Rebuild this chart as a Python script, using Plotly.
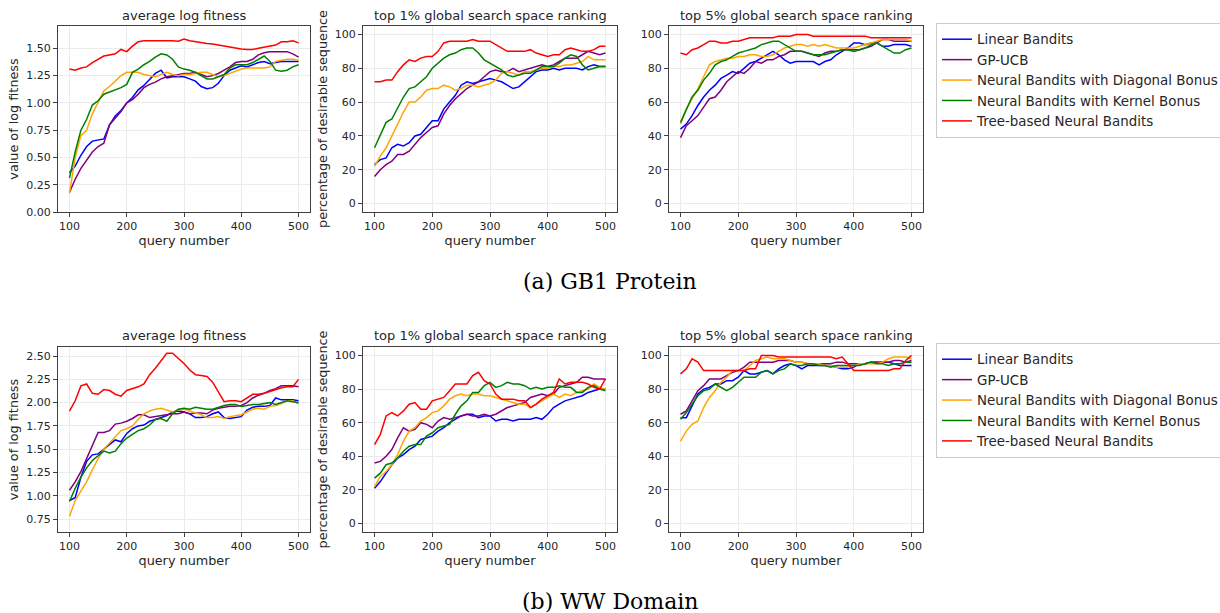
import plotly.graph_objects as go

# ---------------- data ----------------
query = list(range(100, 501, 10))

methods = ["Linear Bandits", "GP-UCB", "Neural Bandits with Diagonal Bonus",
           "Neural Bandits with Kernel Bonus", "Tree-based Neural Bandits"]
colors = ["blue", "purple", "orange", "green", "red"]

panel_titles = ["average log fitness", "top 1% global search space ranking",
                "top 5% global search space ranking"]
captions = ["(a) GB1 Protein", "(b) WW Domain"]

# GB1 - average log fitness
gb1_fit_linear = [0.36,0.42,0.52,0.60,0.65,0.66,0.67,0.80,0.88,0.93, 1.00,1.05,1.12,1.16,1.22,1.27,1.30,1.23,1.24,1.24,
                  1.24,1.22,1.20,1.15,1.13,1.14,1.18,1.25,1.30,1.32, 1.34,1.33,1.35,1.37,1.38,1.36,1.37,1.38,1.38,1.38, 1.38]
gb1_fit_gp = [0.18,0.30,0.40,0.47,0.55,0.60,0.63,0.80,0.86,0.92, 1.00,1.03,1.08,1.14,1.17,1.19,1.22,1.24,1.25,1.26,
              1.27,1.27,1.28,1.26,1.24,1.25,1.27,1.30,1.33,1.37, 1.38,1.38,1.40,1.44,1.46,1.47,1.47,1.47,1.47,1.45, 1.42]
gb1_fit_diag = [0.17,0.50,0.70,0.75,0.90,1.00,1.11,1.15,1.20,1.25, 1.28,1.28,1.28,1.26,1.25,1.24,1.26,1.28,1.26,1.25,
                1.26,1.26,1.27,1.28,1.28,1.26,1.24,1.25,1.27,1.29, 1.31,1.32,1.32,1.32,1.32,1.33,1.38,1.39,1.40,1.40, 1.39]
gb1_fit_kernel = [0.31,0.55,0.75,0.85,0.98,1.02,1.08,1.10,1.12,1.14, 1.17,1.28,1.31,1.35,1.38,1.42,1.45,1.44,1.40,1.33,
                  1.31,1.30,1.28,1.25,1.22,1.22,1.24,1.26,1.32,1.35, 1.35,1.35,1.37,1.40,1.43,1.38,1.30,1.29,1.30,1.33, 1.35]
gb1_fit_tree = [1.31,1.30,1.32,1.33,1.37,1.40,1.43,1.44,1.45,1.49, 1.47,1.52,1.56,1.57,1.57,1.575,1.575,1.57,1.57,1.565,
                1.585,1.57,1.56,1.55,1.545,1.54,1.53,1.52,1.51,1.50, 1.495,1.49,1.49,1.50,1.51,1.52,1.53,1.56,1.56,1.57, 1.55]

# GB1 - top 1%
gb1_top1_linear = [23,26,27,33,35,34,36,40,41,45, 49,49,56,60,64,70,72,71,72,73, 74,73,72,70,68,69,72,75,78,79, 79,80,79,80,80,80,79,81,82,81, 81]
gb1_top1_gp = [16,20,23,25,29,29,31,35,39,42, 45,46,53,58,62,65,68,70,72,75, 78,79,78,78,80,78,79,80,81,82, 81,82,84,86,86,86,88,90,89,88, 89]
gb1_top1_diag = [22,28,33,40,47,54,60,60,63,67, 68,68,70,69,67,68,70,70,69,70, 71,73,77,78,77,76,78,78,79,80, 80,81,81,82,82,83,84,87,85,85, 85]
gb1_top1_kernel = [33,40,48,50,57,63,68,69,72,75, 80,83,86,88,89,91,92,92,89,85, 83,81,79,76,75,76,77,77,79,81, 81,81,83,86,88,87,82,79,80,81, 81]
gb1_top1_tree = [72,72,73,73,78,82,85,84,86,87, 87,90,95,96,96,96,96,97,96,96, 96,94,92,90,90,90,90,91,89,88, 87,88,88,91,92,91,90,90,91,93, 93]

# GB1 - top 5%
gb1_top5_linear = [44,47,52,58,63,67,70,74,76,78, 77,80,83,84,86,88,90,88,85,83, 84,84,84,84,82,84,85,88,90,92, 95,95,94,95,95,93,93,94,94,94, 93]
gb1_top5_gp = [39,46,49,52,57,62,63,67,72,75, 78,77,80,84,83,85,85,87,88,90, 90,90,89,88,87,89,90,90,91,91, 91,91,92,93,95,97,97,96,96,96, 96]
gb1_top5_diag = [47,56,62,68,75,82,84,85,86,86, 87,87,88,88,87,87,88,90,92,93, 94,94,93,94,93,94,93,92,92,92, 92,93,94,95,96,97,97,97,97,97, 96]
gb1_top5_kernel = [48,55,63,67,73,77,82,84,85,87, 89,90,91,92,94,95,96,96,94,92, 90,90,89,88,88,88,89,90,91,91, 90,91,92,94,95,93,91,89,89,91, 92]
gb1_top5_tree = [89,88,91,92,94,96,96,95,95,96, 96,97,98,98,98,98,98,99,99,99, 100,100,100,99,99,99,99,99,99,99, 99,99,99,98,98,98,98,98,98,98, 98]

# WW - average log fitness
ww_fit_linear = [0.95,0.98,1.20,1.37,1.44,1.45,1.50,1.55,1.60,1.58, 1.67,1.72,1.75,1.76,1.80,1.82,1.84,1.86,1.90,1.91,
                 1.90,1.88,1.84,1.84,1.85,1.88,1.90,1.84,1.83,1.84, 1.85,1.92,1.95,1.96,1.96,1.97,2.05,2.03,2.03,2.03, 2.02]
ww_fit_gp = [1.06,1.15,1.26,1.40,1.55,1.68,1.68,1.70,1.77,1.78, 1.80,1.83,1.87,1.87,1.84,1.85,1.86,1.87,1.88,1.88,
             1.90,1.88,1.89,1.89,1.88,1.92,1.94,1.95,1.96,1.96, 1.97,2.00,2.05,2.08,2.10,2.13,2.15,2.18,2.18,2.18, 2.17]
ww_fit_diag = [0.78,0.95,1.05,1.15,1.28,1.40,1.50,1.57,1.63,1.70, 1.72,1.75,1.82,1.88,1.91,1.93,1.94,1.92,1.90,1.92,
               1.93,1.91,1.89,1.87,1.84,1.84,1.85,1.83,1.85,1.86, 1.87,1.90,1.93,1.94,1.93,1.96,1.97,1.99,2.02,2.02, 1.99]
ww_fit_kernel = [0.94,1.08,1.20,1.30,1.38,1.43,1.48,1.46,1.48,1.56, 1.62,1.66,1.70,1.72,1.76,1.82,1.83,1.80,1.88,1.93,
                 1.94,1.93,1.95,1.94,1.93,1.93,1.95,1.97,1.98,1.98, 1.96,1.97,1.98,1.98,1.99,2.00,1.98,2.00,2.02,2.01, 2.00]
ww_fit_tree = [1.91,2.02,2.18,2.20,2.10,2.09,2.14,2.13,2.09,2.07, 2.13,2.15,2.17,2.20,2.30,2.37,2.45,2.53,2.53,2.48,
               2.42,2.35,2.30,2.29,2.28,2.22,2.12,2.01,2.02,2.02, 2.01,2.05,2.09,2.09,2.10,2.12,2.14,2.16,2.17,2.17, 2.25]

# WW - top 1%
ww_top1_linear = [21,25,30,35,39,41,44,46,50,51, 52,55,57,60,62,64,65,65,63,64, 64,61,62,62,61,62,62,62,63,62, 65,69,71,73,74,75,76,78,79,80, 80]
ww_top1_gp = [36,37,40,44,51,57,55,56,60,59, 57,61,63,62,63,64,65,64,64,65, 64,65,67,69,70,71,72,75,76,77, 76,77,81,82,83,84,87,87,86,86, 86]
ww_top1_diag = [22,28,31,35,41,49,55,57,61,63, 66,67,70,74,76,77,76,77,77,76, 76,75,74,73,72,71,71,69,71,73, 75,77,75,77,76,78,79,80,83,81, 80]
ww_top1_kernel = [27,30,35,36,39,43,46,47,47,52, 54,57,58,59,65,70,73,78,78,82, 84,81,82,84,83,83,82,80,81,80, 81,81,82,81,81,78,78,81,82,80, 79]
ww_top1_tree = [47,53,64,66,64,67,71,72,68,68, 73,74,75,79,83,83,83,88,90,85, 83,77,74,74,74,73,73,69,71,74, 76,78,86,83,84,84,84,83,81,80, 86]

# WW - top 5%
ww_top5_linear = [63,63,70,77,80,81,83,83,85,85, 87,91,89,89,90,91,89,92,94,95, 94,92,94,94,94,94,94,93,92,92, 93,95,95,96,96,96,96,95,94,94, 94]
ww_top5_gp = [65,67,73,79,82,86,86,86,88,90, 91,93,96,96,96,96,96,97,97,97, 96,96,95,95,95,95,95,96,96,95, 95,95,95,96,96,96,96,97,97,96, 97]
ww_top5_diag = [49,55,59,61,69,75,79,84,87,91, 91,91,94,97,98,99,98,98,98,97, 96,96,95,95,95,94,94,93,93,93, 94,95,95,95,95,96,98,99,99,99, 98]
ww_top5_kernel = [62,66,71,76,79,80,83,81,79,81, 84,87,87,87,90,91,89,91,92,95, 94,94,95,95,94,94,93,94,94,94, 94,94,95,96,95,95,94,95,95,96, 96]
ww_top5_tree = [89,92,98,96,91,91,91,91,91,91, 91,91,92,92,100,100,100,99,99,99, 99,99,99,99,99,99,99,98,99,95, 91,91,91,91,91,91,91,92,92,97, 100]

fit_ticks_gb1 = [0.00, 0.25, 0.50, 0.75, 1.00, 1.25, 1.50]
fit_ticks_ww = [0.75, 1.00, 1.25, 1.50, 1.75, 2.00, 2.25, 2.50]
pct_ticks = [0, 20, 40, 60, 80, 100]
x_ticks = [100, 200, 300, 400, 500]

panels = [
    [gb1_fit_linear, gb1_fit_gp, gb1_fit_diag, gb1_fit_kernel, gb1_fit_tree],
    [gb1_top1_linear, gb1_top1_gp, gb1_top1_diag, gb1_top1_kernel, gb1_top1_tree],
    [gb1_top5_linear, gb1_top5_gp, gb1_top5_diag, gb1_top5_kernel, gb1_top5_tree],
    [ww_fit_linear, ww_fit_gp, ww_fit_diag, ww_fit_kernel, ww_fit_tree],
    [ww_top1_linear, ww_top1_gp, ww_top1_diag, ww_top1_kernel, ww_top1_tree],
    [ww_top5_linear, ww_top5_gp, ww_top5_diag, ww_top5_kernel, ww_top5_tree],
]

# ---------------- layout geometry ----------------
W, H = 1220, 613
xdoms = [[58 / W, 310 / W], [363 / W, 617 / W], [669 / W, 923 / W]]
ydoms = [[1 - 212 / H, 1 - 26 / H], [1 - 532 / H, 1 - 347 / H]]
title_y = [1 - 15 / H, 1 - 335 / H]
caption_y = [1 - 281 / H, 1 - 601 / H]
legend_top = [1 - 23 / H, 1 - 343 / H]

FONT = "DejaVu Sans"
TXT = "#262626"
AX = "#404040"

fig = go.Figure()
layout = dict(
    width=W, height=H,
    margin=dict(l=0, r=0, t=0, b=0, autoexpand=False),
    paper_bgcolor="white", plot_bgcolor="white",
    font=dict(family=FONT, color=TXT, size=11),
    annotations=[],
)

for i, series in enumerate(panels):
    row, col = divmod(i, 3)
    n = i + 1
    xa = f"x{n}" if n > 1 else "x"
    ya = f"y{n}" if n > 1 else "y"
    leg = "legend" if row == 0 else "legend2"
    for k, vals in enumerate(series):
        fig.add_trace(go.Scatter(
            x=query, y=vals, mode="lines", name=methods[k],
            line=dict(color=colors[k], width=1.5),
            xaxis=xa, yaxis=ya, legend=leg,
            showlegend=(col == 0),
        ))
    common = dict(showline=True, linecolor=AX, linewidth=1, mirror=True,
                  ticks="outside", ticklen=4, tickcolor=AX, tickwidth=1,
                  showgrid=True, gridcolor="#ebebeb", gridwidth=1, zeroline=False,
                  tickfont=dict(family=FONT, size=11, color=TXT))
    xkey = "xaxis" if n == 1 else f"xaxis{n}"
    ykey = "yaxis" if n == 1 else f"yaxis{n}"
    layout[xkey] = dict(common, domain=xdoms[col], anchor=ya, range=[80, 520],
                        tickvals=x_ticks,
                        title=dict(text="query number", standoff=3,
                                   font=dict(family=FONT, size=12.8, color=TXT)))
    if col == 0:
        if row == 0:
            yr, tv = [0, 1.705], fit_ticks_gb1
        else:
            yr, tv = [0.612, 2.597], fit_ticks_ww
        ydict = dict(common, domain=ydoms[row], anchor=xa, range=yr, tickvals=tv,
                     tickformat=".2f",
                     title=dict(text="value of log fitness", standoff=4,
                                font=dict(family=FONT, size=12.8, color=TXT)))
    elif col == 1:
        ydict = dict(common, domain=ydoms[row], anchor=xa, range=[-5, 105],
                     tickvals=pct_ticks,
                     title=dict(text="percentage of desirable sequence", standoff=4,
                                font=dict(family=FONT, size=12.8, color=TXT)))
    else:
        ydict = dict(common, domain=ydoms[row], anchor=xa, range=[-5, 105],
                     tickvals=pct_ticks)
    layout[ykey] = ydict
    layout["annotations"].append(dict(
        text=panel_titles[col], xref="paper", yref="paper",
        x=sum(xdoms[col]) / 2, y=title_y[row], xanchor="center", yanchor="middle",
        showarrow=False, font=dict(family=FONT, size=13, color=TXT)))

for r in range(2):
    layout["annotations"].append(dict(
        text=captions[r], xref="paper", yref="paper", x=0.5, y=caption_y[r],
        xanchor="center", yanchor="middle", showarrow=False,
        font=dict(family="DejaVu Serif", size=22, color="black")))

for r, key in enumerate(["legend", "legend2"]):
    layout[key] = dict(x=936 / W, y=legend_top[r], xanchor="left", yanchor="top",
                       bgcolor="white", bordercolor="#cccccc", borderwidth=1,
                       font=dict(family=FONT, size=13.4, color=TXT),
                       tracegroupgap=0, itemwidth=30)

fig.update_layout(**layout)
fig.write_html("out.html",
               config={"displayModeBar": False},
               post_script="document.body.style.margin='0';document.body.style.padding='0';")
